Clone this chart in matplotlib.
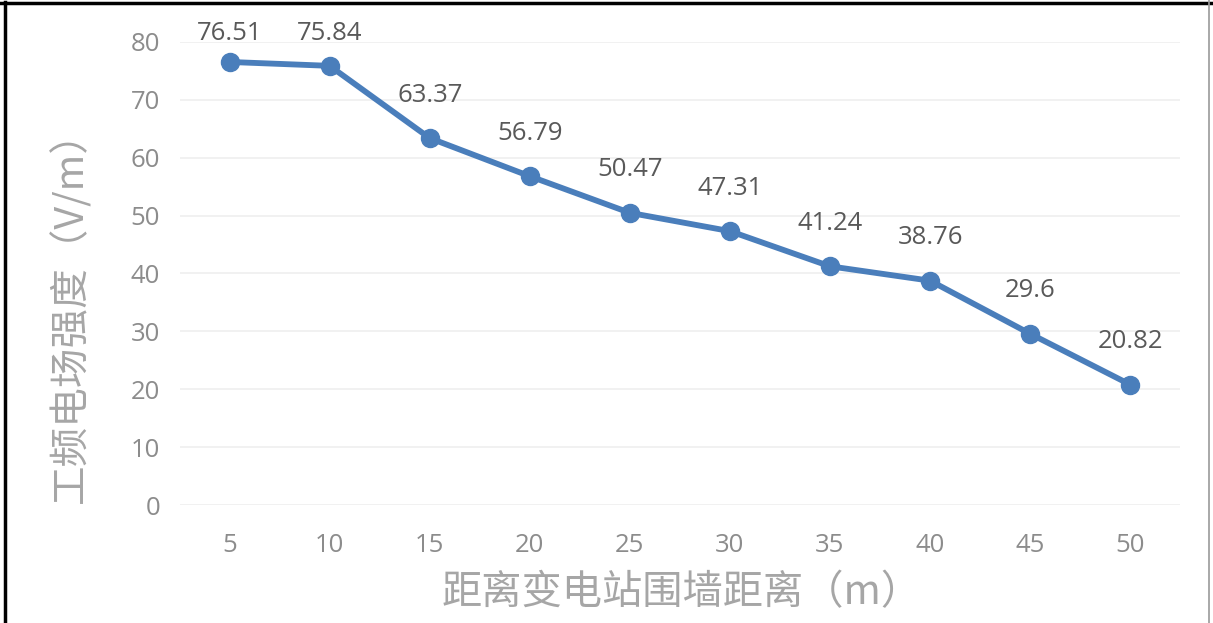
import numpy as np
import matplotlib.pyplot as plt

plt.rcParams['font.family'] = ['Noto Sans CJK SC', 'DejaVu Sans']

distances = ['5', '10', '15', '20', '25', '30', '35', '40', '45', '50']
field_strength = [76.51, 75.84, 63.37, 56.79, 50.47, 47.31, 41.24, 38.76, 29.6, 20.82]
y_ticks = [0, 10, 20, 30, 40, 50, 60, 70, 80]

line_color = '#4a7ebb'
tick_color = '#8c8c8c'
label_color = '#595959'
title_color = '#a6a6a6'
num_font = ['Open Sans', 'DejaVu Sans']

fig = plt.figure(figsize=(12.13, 6.23), dpi=100)
ax = fig.add_axes([0.148, 0.189, 0.825, 0.744])

x = np.arange(len(distances))
ax.plot(x, field_strength, color=line_color, lw=4.2, marker='o', ms=13,
        solid_capstyle='round', zorder=3)

# labels sit above the points, but are kept from running off the top (like Excel does)
for xi, v in zip(x, field_strength):
    ly = min(v + 7.4, 81.4)
    ax.annotate('{:g}'.format(v), (xi, v), xytext=(xi, ly), textcoords='data',
                ha='center', va='center', fontsize=18.5, color=label_color,
                family=num_font, annotation_clip=False)

ax.set_xlim(-0.5, len(distances) - 0.5)
ax.set_ylim(0, 80)
ax.set_xticks(x)
ax.set_xticklabels(distances)
ax.set_yticks(y_ticks)
ax.grid(axis='y', color='#efefef', lw=1.2)
ax.set_axisbelow(True)
for s in ax.spines.values():
    s.set_visible(False)
ax.tick_params(length=0, labelsize=18.5, labelcolor=tick_color)
ax.tick_params(axis='y', pad=14)
ax.tick_params(axis='x', pad=20)
for lab in ax.get_xticklabels() + ax.get_yticklabels():
    lab.set_family(num_font)

fig.text(0.562, 0.048, '距离变电站围墙距离（m）', fontsize=29, color=title_color,
         ha='center', va='center')
fig.text(0.058, 0.507, '工频电场强度（V/m）', fontsize=28.5, color=title_color,
         ha='center', va='center', rotation=90)

# frame around the figure
fig.add_artist(plt.Line2D([0.004, 0.004], [0, 0.997], color='black', lw=2.5, transform=fig.transFigure))
fig.add_artist(plt.Line2D([0, 1], [0.995, 0.995], color='black', lw=2.5, transform=fig.transFigure))
fig.add_artist(plt.Line2D([0.997, 0.997], [0, 1], color='#9a9a9a', lw=1.2, transform=fig.transFigure))

fig.savefig('out.png', dpi=100)
